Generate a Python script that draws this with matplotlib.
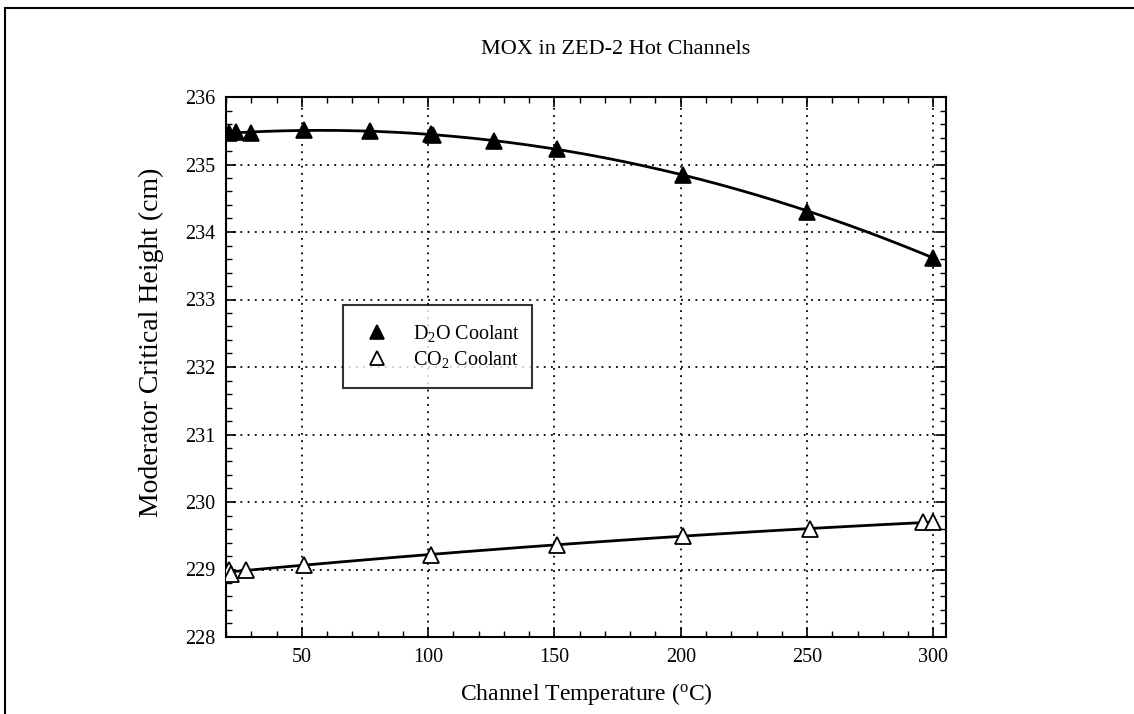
import numpy as np
import matplotlib
matplotlib.use("Agg")
import matplotlib.pyplot as plt
from matplotlib.ticker import MultipleLocator
from matplotlib.patches import Rectangle

plt.rcParams['font.family'] = ['Liberation Serif', 'DejaVu Serif']
plt.rcParams['mathtext.fontset'] = 'custom'
plt.rcParams['mathtext.rm'] = 'Liberation Serif'
plt.rcParams['mathtext.it'] = 'Liberation Serif:italic'

# Data
d2o_temp = [21, 24, 30, 51, 77, 101, 102, 126, 151, 201, 250, 300]
d2o_height = [235.47, 235.48, 235.46, 235.51, 235.49, 235.45, 235.44, 235.35, 235.23, 234.85, 234.30, 233.62]
co2_temp = [21, 22, 28, 51, 101, 151, 201, 251, 296, 300]
co2_height = [229.00, 228.93, 228.99, 229.06, 229.22, 229.37, 229.50, 229.60, 229.70, 229.70]

title = "MOX in ZED-2 Hot Channels"
xlabel = r"Channel Temperature ($^{\rm o}$C)"
ylabel = "Moderator Critical Height (cm)"
xticks = [50, 100, 150, 200, 250, 300]

fig = plt.figure(figsize=(11.34, 7.14), dpi=100)
ax = fig.add_axes([226/1134, 1 - 637/714, 720/1134, 540/714])

# fitted curves (polynomial fits of the data)
xs = np.linspace(20, 300, 300)
p1 = np.polyfit(d2o_temp, d2o_height, 2)
p2 = np.polyfit(co2_temp, co2_height, 2)
ax.plot(xs, np.polyval(p1, xs), color='black', lw=2, zorder=3)
ax.plot(xs, np.polyval(p2, xs), color='black', lw=2, zorder=3)

ax.plot(d2o_temp, d2o_height, linestyle='none', marker='^', ms=11,
        mfc='black', mec='black', mew=1.2, zorder=4, label=r"D$_2$O Coolant")
ax.plot(co2_temp, co2_height, linestyle='none', marker='^', ms=11,
        mfc='white', mec='black', mew=1.3, zorder=4, label=r"CO$_2$ Coolant")

ax.set_xlim(20, 305)
ax.set_ylim(228, 236)
ax.set_xticks(xticks)
ax.xaxis.set_minor_locator(MultipleLocator(10))
ax.yaxis.set_major_locator(MultipleLocator(1))
ax.yaxis.set_minor_locator(MultipleLocator(0.2))
ax.tick_params(which='both', direction='in', top=True, right=True, labelsize=14.5, color='black')
ax.tick_params(which='major', length=7, width=1.2, pad=8)
ax.tick_params(which='minor', length=4, width=1)
ax.grid(True, which='major', linestyle=(0, (1, 3)), color='black', lw=1.3)
for s in ax.spines.values():
    s.set_linewidth(1.5)

ax.set_xlabel(xlabel, fontsize=17, labelpad=10)
ax.set_ylabel(ylabel, fontsize=20)
ax.yaxis.set_label_coords((164 - 226) / 720, (637 - 342) / 540)
fig.text(616/1134, 1 - 50/714, title, ha='center', va='center', fontsize=16)

leg = ax.legend(loc='lower left', bbox_to_anchor=(0.1625, 0.461, 0.2625, 0.154),
                mode='expand', fontsize=14.5, frameon=True, fancybox=False,
                edgecolor='black', markerscale=0.95, handlelength=1.6,
                handletextpad=1.0, borderpad=0.9, labelspacing=0.25, borderaxespad=0)
leg.get_frame().set_linewidth(1.5)

# outer border
fig.patches.append(Rectangle((5/1134, -0.1), 1.2, (1 - 8/714) + 0.1,
                             transform=fig.transFigure, fill=False,
                             edgecolor='black', lw=1.5))

fig.savefig("out.png", dpi=100)
